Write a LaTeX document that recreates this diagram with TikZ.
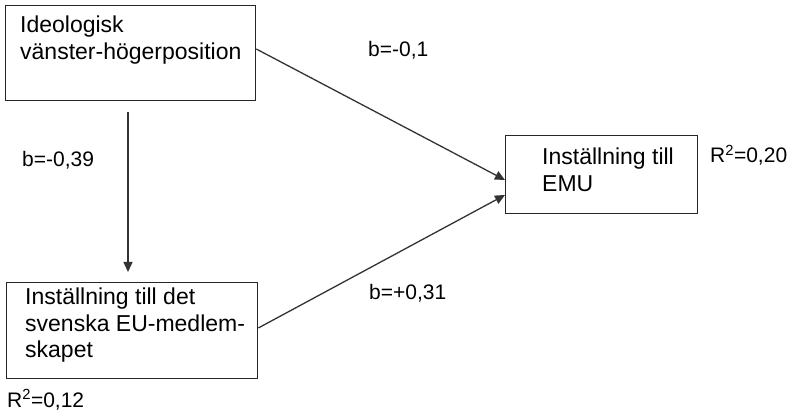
\documentclass[tikz,border=0pt]{standalone}
\usepackage{fontspec}
\setmainfont{Liberation Sans}
\usetikzlibrary{arrows.meta}
\begin{document}
\begin{tikzpicture}[x=1pt,y=-1pt,
  box/.style={draw=black!85, line width=1.3pt, rectangle, anchor=north west, inner sep=0pt},
  boxtext/.style={anchor=north west, inner sep=0pt, align=left, font=\fontsize{23}{26.5}\selectfont},
  lbl/.style={anchor=base west, inner sep=0pt, font=\fontsize{21}{25}\selectfont},
  conn/.style={draw=black!80, line width=1.3pt, -{Triangle[length=10pt,width=9pt]}}]
\useasboundingbox (0,0) rectangle (800,419);
% boxes
\node[box, minimum width=250pt, minimum height=95pt] (ideo) at (5,5) {};
\node[box, minimum width=251pt, minimum height=96pt] (eu) at (6,282) {};
\node[box, minimum width=192pt, minimum height=78pt] (emu) at (505,135) {};
% box texts
\node[boxtext] (ideotxt) at (20,16) {Ideologisk\\vänster-högerposition};
\node[boxtext] (eutxt) at (25,288) {Inställning till det\\svenska EU-medlem-\\skapet};
\node[boxtext] (emutxt) at (542,148) {Inställning till\\EMU};
% labels
\node[lbl] (r20) at (710,163) {R\textsuperscript{2}=0,20};
\node[lbl] (r12) at (7,407) {R\textsuperscript{2}=0,12};
\node[lbl] (b1) at (368,57) {b=-0,1};
\node[lbl] (b39) at (22,167) {b=-0,39};
\node[lbl] (b31) at (369,300) {b=+0,31};
% connectors
\coordinate (s1) at (ideo.east |- 0,49);
\coordinate (t1) at (emu.west |- 0,180);
\coordinate (s2) at (eu.east |- 0,328);
\coordinate (t2) at (emu.west |- 0,195);
\coordinate (s3) at (128,112);
\coordinate (t3) at (128,272);
\draw[conn] (s1) -- (t1);
\draw[conn] (s2) -- (t2);
\draw[conn] (s3) -- (t3);
\end{tikzpicture}
\end{document}
